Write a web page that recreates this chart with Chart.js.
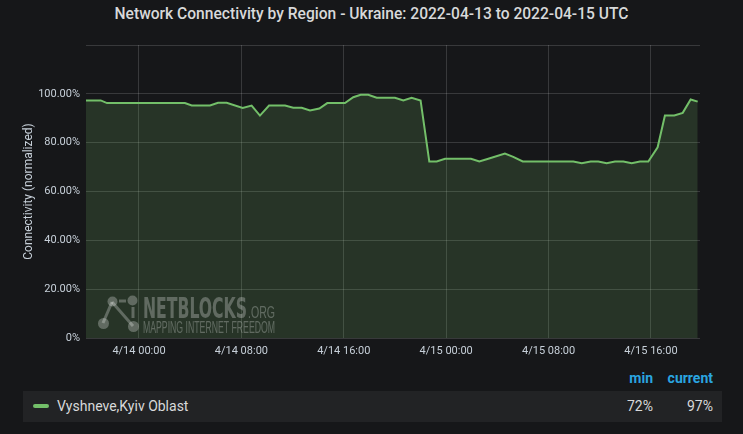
<!DOCTYPE html>
<html>
<head>
<meta charset="utf-8">
<script src="https://cdn.jsdelivr.net/npm/chart.js@4/dist/chart.umd.min.js"></script>
<style>
  html, body { margin: 0; padding: 0; background: #161719; width: 743px; height: 434px; overflow: hidden; font-family: Roboto, "Open Sans", sans-serif; }
  #title { position: absolute; left: 0; top: 0; width: 743px; height: 28px; line-height: 28px; text-align: center; color: #d8d9da; font-size: 15.6px; font-weight: 500; }
  #wrap { position: absolute; left: 0; top: 0; width: 743px; height: 365px; }
  #head { position: absolute; top: 369px; left: 0; width: 743px; height: 18px; font-size: 14px; font-weight: 700; color: #2aa5e0; }
  #head span { position: absolute; text-align: right; line-height: 18px; }
  #row { position: absolute; top: 391px; left: 23px; width: 699px; height: 31px; background: #222325; color: #d8d9da; font-size: 14px; line-height: 31px; }
  #row .sw { position: absolute; left: 10px; top: 13px; width: 16px; height: 4px; border-radius: 2px; background: #73bf69; }
  #row .name { position: absolute; left: 34px; }
  #row .v { position: absolute; text-align: right; }
</style>
</head>
<body>
<div id="title">Network Connectivity by Region - Ukraine: 2022-04-13 to 2022-04-15 UTC</div>
<div id="wrap"><canvas id="line-chart"></canvas></div>
<div id="head"><span style="left:590px;width:63px">min</span><span style="left:650px;width:63px">current</span></div>
<div id="row">
  <div class="sw"></div>
  <div class="name">Vyshneve,Kyiv Oblast</div>
  <div class="v" style="left:567px;width:63px">72%</div>
  <div class="v" style="left:627px;width:63px">97%</div>
</div>
<script>
// hours relative to 2022-04-14 00:00 UTC
var hours = [-4.14, -2.99, -2.5, 3.59, 4.12, 5.55, 6.17, 6.85, 8.10, 8.80, 9.45, 10.16, 11.41, 12.05, 12.71,
  13.36, 14.09, 14.71, 16.09, 16.74, 17.32, 17.91, 18.57, 20.0, 20.65, 21.3, 22.0, 22.68, 23.26, 23.91,
  25.94, 26.59, 27.29, 28.59, 29.24, 29.98, 33.93, 34.59, 35.29, 35.88, 36.54, 37.19, 37.84, 38.49,
  39.14, 39.79, 40.52, 41.09, 41.82, 42.48, 43.10, 43.65]
var connectivity = [97.3, 97.3, 96.2, 96.2, 95.2, 95.2, 96.3, 96.3, 94.2, 95.2, 91.1, 95.2, 95.2, 94.3, 94.3,
  93.2, 94.0, 96.2, 96.2, 98.6, 99.6, 99.6, 98.4, 98.4, 97.3, 98.4, 97.3, 72.3, 72.3, 73.4,
  73.4, 72.3, 73.4, 75.5, 74.2, 72.3, 72.3, 71.6, 72.3, 72.3, 71.6, 72.3, 72.3, 71.6,
  72.3, 72.3, 78.1, 91.1, 91.1, 92.2, 97.7, 96.8]
var tickHours = [0, 8, 16, 24, 32, 40]
var tickLabels = ['4/14 00:00', '4/14 08:00', '4/14 16:00', '4/15 00:00', '4/15 08:00', '4/15 16:00']

var points = hours.map(function (h, i) { return {x: h, y: connectivity[i]} })

var watermark = {
  id: 'watermark',
  afterDatasetsDraw: function (chart) {
    var ctx = chart.ctx
    ctx.save()
    ctx.fillStyle = 'rgba(255,255,255,0.27)'
    ctx.strokeStyle = 'rgba(255,255,255,0.27)'
    ctx.lineWidth = 3
    ctx.beginPath(); ctx.moveTo(112, 302); ctx.lineTo(103, 323); ctx.stroke()
    ctx.beginPath(); ctx.moveTo(112, 302); ctx.lineTo(133, 326); ctx.stroke()
    ctx.beginPath(); ctx.moveTo(119, 301); ctx.lineTo(126, 301); ctx.stroke()
    ctx.beginPath(); ctx.moveTo(133, 307); ctx.lineTo(133, 318); ctx.stroke()
    var nodes = [[112.5, 301.5, 5], [132.5, 300.5, 5], [103.5, 323.5, 5.5], [133.5, 326.5, 5.5]]
    nodes.forEach(function (n) { ctx.beginPath(); ctx.arc(n[0], n[1], n[2], 0, Math.PI * 2); ctx.fill() })
    function fitText(txt, font, x, y, w) {
      ctx.font = font
      var m = ctx.measureText(txt).width
      ctx.save(); ctx.translate(x, y); ctx.scale(w / m, 1); ctx.fillText(txt, 0, 0); ctx.restore()
    }
    ctx.textBaseline = 'alphabetic'
    fitText('NETBLOCKS', 'bold 29px "Liberation Sans Narrow", "DejaVu Sans Condensed", sans-serif', 143, 318, 104)
    fitText('.ORG', '17px "Liberation Sans Narrow", sans-serif', 248, 318, 27)
    fitText('MAPPING INTERNET FREEDOM', '16px "Liberation Sans Narrow", sans-serif', 143, 333, 132)
    ctx.restore()
  }
}

new Chart(document.getElementById('line-chart'), {
  type: 'line',
  data: {
    datasets: [{
      data: points,
      label: 'Vyshneve,Kyiv Oblast',
      borderColor: '#73bf69',
      backgroundColor: 'rgba(115,191,105,0.18)',
      borderWidth: 2,
      pointRadius: 0,
      tension: 0,
      fill: 'origin'
    }]
  },
  plugins: [watermark],
  options: {
    responsive: true,
    maintainAspectRatio: false,
    animation: false,
    layout: { padding: { top: 45, right: 43, left: 0, bottom: 0 } },
    plugins: { legend: { display: false }, title: { display: false }, tooltip: { enabled: false } },
    scales: {
      x: {
        type: 'linear',
        min: -4.14,
        max: 43.83,
        afterBuildTicks: function (scale) { scale.ticks = tickHours.map(function (v) { return {value: v} }) },
        afterFit: function (scale) { scale.height = 27 },
        ticks: {
          color: '#c7d0d9', padding: 7, maxRotation: 0,
          font: { family: 'Roboto', size: 11 },
          callback: function (v) { return tickLabels[tickHours.indexOf(v)] }
        },
        grid: { color: 'rgba(255,255,255,0.15)', drawTicks: false },
        border: { display: false }
      },
      y: {
        min: 0,
        max: 120,
        afterFit: function (scale) { scale.width = 86 },
        ticks: {
          stepSize: 20, color: '#c7d0d9', padding: 6,
          font: { family: 'Roboto', size: 11 },
          callback: function (v) { return v === 120 ? '' : (v === 0 ? '0%' : v.toFixed(2) + '%') }
        },
        title: {
          display: true, text: 'Connectivity (normalized)', color: '#c7d0d9',
          font: { family: 'Roboto', size: 12 }, padding: { top: 22, bottom: 0 }
        },
        grid: { color: 'rgba(255,255,255,0.15)', drawTicks: false },
        border: { display: false }
      }
    }
  }
});
</script>
</body>
</html>
